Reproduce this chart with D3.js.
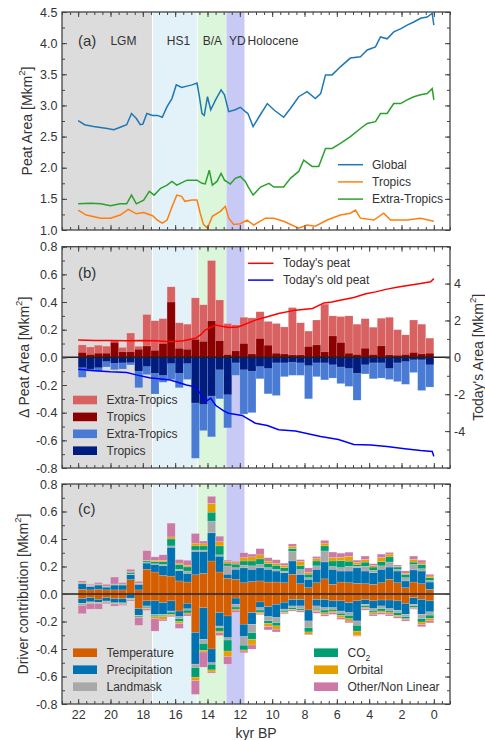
<!DOCTYPE html>
<html><head><meta charset="utf-8">
<script src="https://cdn.jsdelivr.net/npm/d3@7"></script>
<style>
body{margin:0;background:#fff}
svg{display:block}
text{font-family:Arial,"Liberation Sans",sans-serif;fill:#333}
</style>
</head><body>
<svg id="chart" width="485" height="740"></svg>
<script>
// ---------------- DATA ----------------
const eraNames = ["LGM","HS1","B/A","YD","Holocene"];
const eraStart = [23, 17.4, 14.63, 12.82, 11.7];
const eraEnd   = [17.4, 14.63, 12.82, 11.7, -1];
const eraLabelKyr = [19.2, 15.8, 13.7, 12.15, 9.95];

// Panel (a)
const globalKyr = [22,21.6,21.05,20.2,19.8,19.4,19,18.7,18.4,18.16,18,17.75,17.4,17.1,16.8,16.5,16.2,15.93,15.6,15.27,14.96,14.65,14.5,14.34,14.2,14,13.8,13.5,13.16,12.95,12.69,12.28,11.97,11.66,11.5,11.18,10.83,10.3,9.9,9.29,8.87,8.36,7.84,7.33,7,6.7,6.29,5.78,5.16,4.54,4.12,3.61,3.3,2.89,2.48,2.06,1.65,1.24,0.82,0.41,0.1,0];
const globalArea = [2.755,2.69,2.66,2.63,2.61,2.65,2.69,2.87,2.79,2.69,2.70,2.87,2.84,2.84,2.81,2.98,3.11,3.33,3.29,3.31,3.33,3.36,3.14,2.87,2.84,3.14,2.93,3.09,3.25,3.17,2.90,2.93,2.97,2.90,2.87,2.66,2.81,3.03,2.93,2.81,2.95,3.14,3.22,3.11,3.19,3.49,3.49,3.62,3.76,3.78,3.89,3.94,4.10,4.07,4.18,4.23,4.29,4.34,4.40,4.42,4.48,4.29];
const extraKyr = [22,21.2,20.6,20,19.4,19,18.7,18.4,17.95,17.6,17.3,16.9,16.5,16.2,15.9,15.27,14.65,14.34,14.14,13.89,13.7,13.41,13.16,12.95,12.59,12.28,11.97,11.66,11.5,11.18,10.72,10.2,9.9,9.29,8.87,8.36,8.05,7.53,7.12,6.7,6.29,5.78,5.16,4.54,4.12,3.61,3.3,2.89,2.48,2.06,1.65,1.24,0.82,0.41,0.1,0];
const extraArea = [1.42,1.43,1.42,1.39,1.42,1.42,1.56,1.42,1.48,1.62,1.56,1.67,1.72,1.78,1.72,1.80,1.80,1.75,1.74,1.96,1.72,1.78,1.91,1.80,1.74,1.83,1.86,1.78,1.70,1.56,1.69,1.75,1.69,1.69,1.83,1.94,2.12,2.02,2.02,2.31,2.31,2.39,2.50,2.63,2.71,2.74,2.87,2.87,3.03,3.03,3.09,3.14,3.17,3.19,3.27,3.09];
const tropKyr = [22,21.5,20.6,20,19.4,18.9,18.4,17.95,17.4,17.1,16.8,16.5,16.2,15.9,15.6,15.4,14.96,14.65,14.45,14.25,14,13.7,13.2,12.9,12.69,12.38,11.97,11.55,11.14,10.42,9.9,9.29,8.36,7.84,7.33,6.6,5.78,5.16,4.85,4.54,3.71,3.1,2.68,1.65,0.82,0];
const tropArea = [1.32,1.24,1.19,1.19,1.24,1.33,1.26,1.28,1.23,1.16,1.11,1.16,1.37,1.56,1.54,1.46,1.48,1.48,1.27,1.09,1.03,1.22,1.30,1.38,1.19,1.09,1.10,1.16,1.08,1.19,1.19,1.14,1.03,1.08,1.06,1.16,1.24,1.27,1.32,1.19,1.16,1.27,1.16,1.16,1.19,1.14];

// Panel (b): 0.5 kyr bins
const binCenters = [21.75,21.25,20.75,20.25,19.75,19.25,18.75,18.25,17.75,17.25,16.75,16.25,15.75,15.25,14.75,14.25,13.75,13.25,12.75,12.25,11.75,11.25,10.75,10.25,9.75,9.25,8.75,8.25,7.75,7.25,6.75,6.25,5.75,5.25,4.75,4.25,3.75,3.25,2.75,2.25,1.75,1.25,0.75,0.25];
const gainTotal = [0.09,0.075,0.088,0.081,0.12,0.072,0.176,0.08,0.31,0.265,0.28,0.51,0.25,0.24,0.43,0.38,0.70,0.415,0.245,0.235,0.29,0.285,0.33,0.26,0.245,0.22,0.36,0.25,0.19,0.27,0.385,0.30,0.295,0.30,0.24,0.28,0.218,0.283,0.29,0.20,0.163,0.27,0.24,0.139];
const gainTropics = [0.035,0.02,0.03,0.03,0.108,0.04,0.04,0.058,0.082,0.05,0.1,0.40,0.065,0.058,0.13,0.115,0.264,0.12,0.02,0.047,0.10,0.025,0.136,0.088,0.03,0.025,0.018,0.018,0.078,0.09,0.04,0.155,0.107,0.03,0.02,0.066,0.02,0.083,0.018,0.015,0.02,0.035,0.025,0.03];
const lossTotal = [-0.145,-0.10,-0.10,-0.07,-0.09,-0.085,-0.055,-0.22,-0.125,-0.265,-0.18,-0.16,-0.22,-0.16,-0.73,-0.53,-0.575,-0.30,-0.51,-0.13,-0.41,-0.40,-0.155,-0.264,-0.276,-0.14,-0.13,-0.13,-0.30,-0.14,-0.163,-0.15,-0.19,-0.21,-0.31,-0.12,-0.155,-0.15,-0.16,-0.175,-0.195,-0.11,-0.24,-0.215];
const lossTropics = [-0.075,-0.085,-0.075,-0.03,-0.043,-0.04,-0.038,-0.10,-0.066,-0.115,-0.13,-0.045,-0.115,-0.045,-0.33,-0.34,-0.28,-0.09,-0.27,-0.04,-0.09,-0.10,-0.066,-0.08,-0.04,-0.04,-0.035,-0.04,-0.06,-0.04,-0.04,-0.054,-0.07,-0.08,-0.115,-0.054,-0.04,-0.04,-0.08,-0.04,-0.03,-0.018,-0.018,-0.054];
const todayKyr = [22,21,20,19,18,17.2,16.3,15.5,14.75,14.45,14.14,13.5,12.7,12.1,11.04,10.3,9.6,8.56,7.5,6.8,6.3,5.8,4.95,4.2,3.6,2.9,2.2,1.6,0.82,0.2,0];
const todayPeat = [0.94,0.92,0.91,0.9,0.91,0.9,0.85,0.9,1.03,1.2,1.48,1.75,1.62,1.65,2.02,2.2,2.38,2.56,2.65,2.95,3.0,3.1,3.25,3.45,3.55,3.7,3.82,3.9,4.0,4.1,4.27];
const oldKyr = [22,21,20,19,18.4,17.6,16.3,15.3,14.75,14.45,14.14,13.8,13.5,13,12.7,11.86,11.04,10.3,9.6,8.56,7.5,7,5.9,4.95,3.9,2.9,1.8,0.82,0.1,0];
const oldPeat = [-0.65,-0.72,-0.78,-0.82,-0.95,-1.1,-1.23,-1.5,-1.6,-1.95,-2.4,-2.22,-2.6,-2.9,-3.03,-3.15,-3.57,-3.7,-3.93,-4.0,-4.2,-4.29,-4.45,-4.72,-4.75,-4.83,-4.95,-5.05,-5.1,-5.37];

// Panel (c): driver contributions
const driverNames = ["Temperature","Precipitation","Landmask","CO2","Orbital","Other/Non Linear"];
const posTemp = [.034,.03,.035,.03,.03,.03,.105,.03,.18,.16,.135,.13,.095,.087,.14,.15,.24,.16,.114,.107,.082,.09,.095,.087,.087,.082,.143,.075,.046,.082,.11,.07,.087,.082,.078,.075,.07,.082,.107,.082,.046,.087,.075,.034];
const posPrec = [.04,.025,.03,.02,.035,.035,.035,.04,.045,.055,.07,.21,.075,.063,.17,.16,.205,.115,.03,.073,.108,.09,.095,.093,.08,.073,.097,.068,.061,.098,.123,.11,.08,.085,.112,.092,.085,.098,.089,.085,.049,.088,.092,.053];
const posLand = [.003,.003,.003,.003,.003,.003,.005,.004,.005,.005,.01,.01,.01,.017,.01,.01,.085,.01,.06,.012,.02,.025,.025,.012,.012,.012,.07,.035,.012,.025,.08,.02,.025,.035,.012,.035,.017,.025,.037,.012,.024,.04,.017,.012];
const posCO2 = [.003,.002,.003,.003,.003,.003,.012,.003,.01,.015,.02,.05,.035,.03,.03,.03,.065,.065,.02,.025,.03,.035,.04,.03,.03,.025,.02,.03,.025,.035,.037,.04,.05,.037,.012,.03,.024,.03,.037,.017,.024,.017,.03,.02];
const posOrb = [.003,.002,.002,.002,.002,.002,.005,.003,.005,.01,.01,.015,.01,.012,.02,.015,.065,.03,.012,.01,.025,.03,.03,.017,.015,.017,.017,.03,.012,.017,.02,.025,.025,.035,.017,.02,.012,.03,.02,.005,.008,.02,.012,.012];
const posOther = [.012,.008,.01,.012,.05,.01,.018,.012,.07,.025,.04,.1,.025,.036,.07,.02,.05,.04,.01,.01,.035,.02,.045,.025,.025,.015,.017,.012,.034,.015,.02,.04,.03,.03,.015,.024,.012,.025,.012,.01,.017,.024,.02,.012];
const negTemp = [-.034,-.027,-.04,-.027,-.034,-.034,-.005,-.107,-.05,-.05,-.063,-.05,-.124,-.068,-.28,-.1,-.40,-.136,-.16,-.03,-.22,-.136,-.058,-.092,-.075,-.06,-.04,-.04,-.116,-.04,-.04,-.05,-.05,-.063,-.05,-.04,-.05,-.044,-.044,-.05,-.068,-.027,-.04,-.05];
const negPrec = [-.034,-.03,-.02,-.024,-.03,-.03,-.025,-.048,-.037,-.1,-.085,-.074,-.041,-.04,-.23,-.23,-.10,-.097,-.158,-.045,-.09,-.085,-.042,-.073,-.097,-.05,-.047,-.047,-.08,-.047,-.06,-.05,-.074,-.073,-.146,-.035,-.057,-.043,-.063,-.069,-.08,-.048,-.108,-.08];
const negLand = [-.005,-.005,-.004,-.003,-.003,-.004,-.005,-.005,-.01,-.005,-.008,-.008,-.015,-.01,-.025,-.03,-.012,-.012,-.017,-.02,-.063,-.06,-.017,-.03,-.036,-.015,-.012,-.02,-.049,-.024,-.017,-.012,-.017,-.02,-.032,-.012,-.017,-.02,-.017,-.017,-.017,-.012,-.032,-.024];
const negCO2 = [-.005,-.003,-.003,-.003,-.003,-.004,-.005,-.007,-.007,-.01,-.008,-.015,-.02,-.02,-.07,-.05,-.04,-.025,-.08,-.015,-.034,-.05,-.015,-.02,-.024,-.008,-.012,-.01,-.031,-.008,-.02,-.012,-.015,-.024,-.042,-.012,-.012,-.017,-.012,-.02,-.015,-.012,-.024,-.024];
const negOrb = [-.005,-.005,-.003,-.003,-.003,-.003,-.003,-.005,-.005,-.015,-.02,-.008,-.015,-.008,-.025,-.012,-.015,-.012,-.04,-.008,-.008,-.04,-.01,-.022,-.024,-.005,-.005,-.005,-.017,-.008,-.012,-.012,-.017,-.017,-.032,-.008,-.012,-.012,-.012,-.01,-.005,-.005,-.017,-.017];
const negOther = [-.06,-.04,-.04,-.01,-.015,-.008,-.008,-.056,-.01,-.09,-.012,-.01,-.035,-.014,-.1,-.11,-.008,-.02,-.055,-.015,-.012,-.03,-.008,-.024,-.02,-.006,-.008,-.01,-.005,-.013,-.012,-.012,-.012,-.012,-.005,-.01,-.012,-.012,-.012,-.01,-.012,-.007,-.017,-.015];

const xMajor = [22,20,18,16,14,12,10,8,6,4,2,0];

// ---------------- STYLE ----------------
const eraColors = ["#dcdcdc","#e3f1f8","#dcf6dc","#c9c9f6","#ffffff"];
const lineColors = {Global:"#1f77b4", Tropics:"#ff7f0e", Extra:"#2ca02c"};
const barColors = {gainET:"#d86262", gainT:"#8b0000", lossET:"#4a7bd4", lossT:"#001c7f"};
const driverColors = ["#d55e00","#0072b2","#a9a9a9","#009e73","#e69f00","#cc79a7"];

const L = 62, R = 450;
const panels = {a:[12,230], b:[246.7,468], c:[484,704]};
const svg = d3.select("#chart");
const x = d3.scaleLinear().domain([23,-1]).range([L,R]);
const xMinor = d3.range(-1, 23.01, 0.5);

function drawEras(top, bottom){
  const g = svg.append("g");
  eraNames.forEach((n,i)=>{
    const x0 = x(eraStart[i]), x1 = x(eraEnd[i]);
    g.append("rect").attr("x",x0).attr("y",top).attr("width",x1-x0).attr("height",bottom-top)
      .attr("fill",eraColors[i]);
  });
  [eraStart[1], eraStart[2]].forEach(k=>{
    g.append("line").attr("x1",x(k)).attr("x2",x(k)).attr("y1",top).attr("y2",bottom)
     .attr("stroke","#fff").attr("stroke-width",1);
  });
}

function drawFrame(top, bottom, y, yMajor, yMinor, fmt, showX, yR, yRMajor, yRMinor){
  const g = svg.append("g").attr("class","axes");
  const tk = (sel)=>{ sel.select(".domain").remove(); sel.selectAll("line").attr("stroke","#444"); sel.selectAll("text").attr("fill","#333").style("font-size","12.5px").style("font-family","Arial, 'Liberation Sans', sans-serif"); };
  g.append("g").attr("transform",`translate(0,${bottom})`)
    .call(d3.axisBottom(x).tickValues(xMajor).tickSize(-5).tickPadding(6).tickFormat(showX? d=>String(d) : ""))
    .call(tk);
  g.append("g").attr("transform",`translate(0,${bottom})`)
    .call(d3.axisBottom(x).tickValues(xMinor).tickSize(-3).tickFormat("")).call(tk);
  g.append("g").attr("transform",`translate(0,${top})`)
    .call(d3.axisTop(x).tickValues(xMajor).tickSize(-5).tickFormat("")).call(tk);
  g.append("g").attr("transform",`translate(0,${top})`)
    .call(d3.axisTop(x).tickValues(xMinor).tickSize(-3).tickFormat("")).call(tk);
  g.append("g").attr("transform",`translate(${L},0)`)
    .call(d3.axisLeft(y).tickValues(yMajor).tickSize(-5).tickPadding(4.5).tickFormat(fmt)).call(tk);
  g.append("g").attr("transform",`translate(${L},0)`)
    .call(d3.axisLeft(y).tickValues(yMinor).tickSize(-3).tickFormat("")).call(tk);
  if(yR){
    g.append("g").attr("transform",`translate(${R},0)`)
      .call(d3.axisRight(yR).tickValues(yRMajor).tickSize(-5).tickPadding(4).tickFormat(d=>String(d))).call(tk);
    g.append("g").attr("transform",`translate(${R},0)`)
      .call(d3.axisRight(yR).tickValues(yRMinor).tickSize(-3).tickFormat("")).call(tk);
  } else {
    g.append("g").attr("transform",`translate(${R},0)`)
      .call(d3.axisRight(y).tickValues(yMajor).tickSize(-5).tickFormat("")).call(tk);
    g.append("g").attr("transform",`translate(${R},0)`)
      .call(d3.axisRight(y).tickValues(yMinor).tickSize(-3).tickFormat("")).call(tk);
  }
  g.append("rect").attr("x",L).attr("y",top).attr("width",R-L).attr("height",bottom-top)
    .attr("fill","none").attr("stroke","#444").attr("stroke-width",1.3);
}

function yLabel(cx, cy, main, sup, tail){
  const t = svg.append("text").attr("transform",`translate(${cx},${cy}) rotate(-90)`)
    .attr("text-anchor","middle").attr("dominant-baseline","central").style("font-size","14px");
  t.append("tspan").text(main);
  t.append("tspan").attr("baseline-shift","super").style("font-size","9.5px").text(sup);
  t.append("tspan").text(tail);
}

// ---------------- PANEL (a) ----------------
{
  const [top,bottom] = panels.a;
  drawEras(top,bottom);
  const y = d3.scaleLinear().domain([1.0,4.5]).range([bottom,top]);
  const line = d3.line().x(d=>x(d[0])).y(d=>y(d[1]));
  const series = [
    [d3.zip(globalKyr, globalArea), lineColors.Global],
    [d3.zip(tropKyr, tropArea), lineColors.Tropics],
    [d3.zip(extraKyr, extraArea), lineColors.Extra]
  ];
  series.forEach(([d,c])=>{
    svg.append("path").datum(d).attr("d",line).attr("fill","none").attr("stroke",c).attr("stroke-width",1.5);
  });
  drawFrame(top,bottom,y,d3.range(1.0,4.51,0.5),d3.range(1.0,4.51,0.25),d=>d.toFixed(1),false);
  svg.append("text").attr("x",78).attr("y",46).style("font-size","15px").text("(a)");
  eraNames.forEach((n,i)=>{
    svg.append("text").attr("x",x(eraLabelKyr[i])).attr("y",45).attr("text-anchor","middle")
      .style("font-size","12px").text(n);
  });
  const leg = [["Global",lineColors.Global],["Tropics",lineColors.Tropics],["Extra-Tropics",lineColors.Extra]];
  leg.forEach(([n,c],i)=>{
    const yy = 164.7 + i*17.2;
    svg.append("line").attr("x1",338).attr("x2",363).attr("y1",yy).attr("y2",yy).attr("stroke",c).attr("stroke-width",1.5);
    svg.append("text").attr("x",372).attr("y",yy).attr("dominant-baseline","central").style("font-size","12px").text(n);
  });
  yLabel(26.5, (top+bottom)/2, "Peat Area [Mkm", "2", "]");
}

// ---------------- PANEL (b) ----------------
{
  const [top,bottom] = panels.b;
  drawEras(top,bottom);
  const y = d3.scaleLinear().domain([-0.8,0.8]).range([bottom,top]);
  const yR = d3.scaleLinear().domain([-6,6]).range([bottom,top]);
  const bw = 0.5;
  const bars = binCenters.map((c,i)=>({c, gT:gainTotal[i], gTr:gainTropics[i], lT:lossTotal[i], lTr:lossTropics[i]}));
  const drawBars = (key, color)=>{
    svg.append("g").selectAll("rect").data(bars).join("rect")
      .attr("x",d=>x(d.c+bw/2)).attr("width",d=>x(d.c-bw/2)-x(d.c+bw/2))
      .attr("y",d=>Math.min(y(d[key]),y(0))).attr("height",d=>Math.abs(y(d[key])-y(0)))
      .attr("fill",color).attr("stroke","rgba(255,255,255,0.35)").attr("stroke-width",0.5);
  };
  drawBars("gT",barColors.gainET);
  drawBars("gTr",barColors.gainT);
  drawBars("lT",barColors.lossET);
  drawBars("lTr",barColors.lossT);
  svg.append("line").attr("x1",L).attr("x2",R).attr("y1",y(0)).attr("y2",y(0)).attr("stroke","#222").attr("stroke-width",1.5);
  const lineR = d3.line().x(d=>x(d[0])).y(d=>yR(d[1]));
  svg.append("path").datum(d3.zip(todayKyr,todayPeat)).attr("d",lineR).attr("fill","none").attr("stroke","#ff0000").attr("stroke-width",1.5);
  svg.append("path").datum(d3.zip(oldKyr,oldPeat)).attr("d",lineR).attr("fill","none").attr("stroke","#0000ff").attr("stroke-width",1.5);
  drawFrame(top,bottom,y,d3.range(-0.8,0.81,0.2),d3.range(-0.8,0.81,0.1),d=>(Math.abs(d)<1e-9?0:d).toFixed(1),false,
            yR,[-4,-2,0,2,4],d3.range(-6,6.01,1));
  svg.append("text").attr("x",78).attr("y",278).style("font-size","15px").text("(b)");
  [["Today's peat","#ff0000"],["Today's old peat","#0000ff"]].forEach(([n,c],i)=>{
    const yy = 263.3 + i*16.8;
    svg.append("line").attr("x1",248).attr("x2",273.5).attr("y1",yy).attr("y2",yy).attr("stroke",c).attr("stroke-width",1.5);
    svg.append("text").attr("x",283).attr("y",yy).attr("dominant-baseline","central").style("font-size","12px").text(n);
  });
  [["Extra-Tropics",barColors.gainET],["Tropics",barColors.gainT],["Extra-Tropics",barColors.lossET],["Tropics",barColors.lossT]].forEach(([n,c],i)=>{
    const yy = 400 + i*16.9;
    svg.append("rect").attr("x",73).attr("y",yy-4.3).attr("width",24).attr("height",8.6).attr("fill",c);
    svg.append("text").attr("x",106.5).attr("y",yy).attr("dominant-baseline","central").style("font-size","12px").text(n);
  });
  yLabel(24, (top+bottom)/2, "\u0394 Peat Area [Mkm", "2", "]");
  yLabel(477.5, (top+bottom)/2, "Today's Area [Mkm", "2", "]");
}

// ---------------- PANEL (c) ----------------
{
  const [top,bottom] = panels.c;
  drawEras(top,bottom);
  const y = d3.scaleLinear().domain([-0.8,0.8]).range([bottom,top]);
  const keys = ["t","p","l","c","o","n"];
  const posData = binCenters.map((c,i)=>({kyr:c,t:posTemp[i],p:posPrec[i],l:posLand[i],c:posCO2[i],o:posOrb[i],n:posOther[i]}));
  const negData = binCenters.map((c,i)=>({kyr:c,t:negTemp[i],p:negPrec[i],l:negLand[i],c:negCO2[i],o:negOrb[i],n:negOther[i]}));
  const stack = d3.stack().keys(keys).offset(d3.stackOffsetDiverging);
  const bw = 0.5;
  [stack(posData), stack(negData)].forEach(layers=>{
    layers.forEach((layer,k)=>{
      svg.append("g").selectAll("rect").data(layer).join("rect")
        .attr("x",d=>x(d.data.kyr+bw/2)).attr("width",d=>x(d.data.kyr-bw/2)-x(d.data.kyr+bw/2))
        .attr("y",d=>y(Math.max(d[0],d[1]))).attr("height",d=>Math.abs(y(d[0])-y(d[1])))
        .attr("fill",driverColors[k]).attr("stroke","rgba(255,255,255,0.3)").attr("stroke-width",0.5);
    });
  });
  svg.append("line").attr("x1",L).attr("x2",R).attr("y1",y(0)).attr("y2",y(0)).attr("stroke","#222").attr("stroke-width",1.5);
  drawFrame(top,bottom,y,d3.range(-0.8,0.81,0.2),d3.range(-0.8,0.81,0.1),d=>(Math.abs(d)<1e-9?0:d).toFixed(1),true);
  svg.append("text").attr("x",78).attr("y",514).style("font-size","15px").text("(c)");
  driverNames.forEach((n,i)=>{
    const col = i<3 ? 0 : 1;
    const yy = 652.7 + (i%3)*17;
    const px = col===0 ? 73 : 314;
    svg.append("rect").attr("x",px).attr("y",yy-4.3).attr("width",24).attr("height",8.6).attr("fill",driverColors[i]);
    const t = svg.append("text").attr("x",px+33.5).attr("y",yy).attr("dominant-baseline","central").style("font-size","12px");
    if(n==="CO2"){ t.append("tspan").text("CO"); t.append("tspan").attr("baseline-shift","sub").style("font-size","8.5px").text("2"); }
    else t.text(n);
  });
  yLabel(23, (top+bottom)/2, "Driver contribution [Mkm", "2", "]");
  svg.append("text").attr("x",(L+R)/2).attr("y",733).attr("text-anchor","middle").attr("dominant-baseline","central")
    .style("font-size","14px").text("kyr BP");
}
</script>
</body></html>
